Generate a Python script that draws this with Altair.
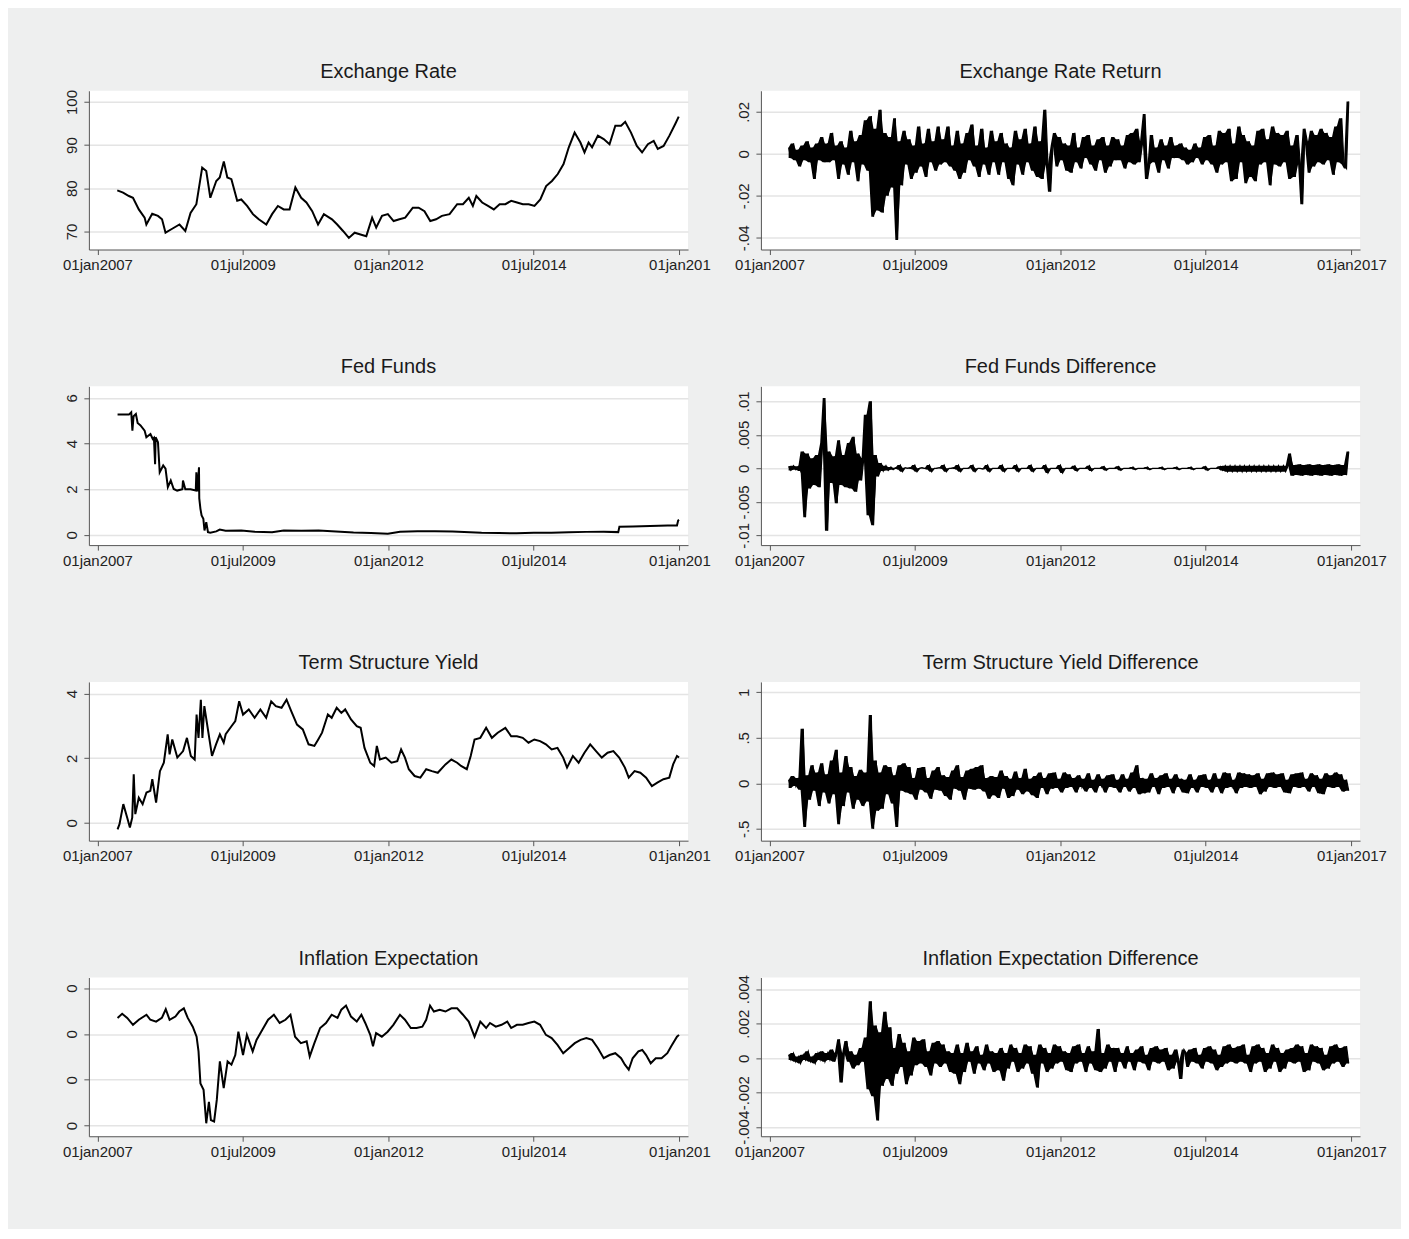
import altair as alt
import pandas as pd

FONT = "Liberation Sans"

# ---------------- level series: (decimal year, value) ----------------
exch = [(2007.34, 79.5), (2007.44, 79.0), (2007.54, 78.2), (2007.61, 77.8), (2007.71, 75.1), (2007.81, 73.2),
        (2007.84, 71.6), (2007.94, 74.1), (2008.04, 73.6), (2008.11, 72.8), (2008.17, 69.7), (2008.27, 70.5),
        (2008.41, 71.6), (2008.51, 70.1), (2008.60, 74.3), (2008.70, 76.3), (2008.80, 84.8), (2008.87, 84.0),
        (2008.94, 77.8), (2009.04, 81.7), (2009.10, 82.5), (2009.17, 86.2), (2009.23, 82.5), (2009.30, 82.1),
        (2009.40, 77.1), (2009.47, 77.4), (2009.57, 75.9), (2009.67, 74.0), (2009.77, 72.8), (2009.90, 71.6),
        (2010.00, 74.0), (2010.10, 75.9), (2010.20, 75.1), (2010.30, 75.1), (2010.40, 80.2), (2010.50, 77.8),
        (2010.59, 76.7), (2010.69, 74.7), (2010.79, 71.6), (2010.89, 74.0), (2011.03, 72.8), (2011.12, 71.6),
        (2011.22, 70.1), (2011.32, 68.5), (2011.42, 69.7), (2011.52, 69.3), (2011.62, 68.9), (2011.72, 73.2),
        (2011.79, 70.9), (2011.89, 73.6), (2011.99, 74.0), (2012.09, 72.4), (2012.19, 72.8), (2012.29, 73.2),
        (2012.42, 75.5), (2012.52, 75.5), (2012.62, 74.7), (2012.72, 72.4), (2012.82, 72.8), (2012.92, 73.6),
        (2013.05, 74.0), (2013.18, 76.3), (2013.28, 76.3), (2013.38, 77.8), (2013.45, 75.9), (2013.51, 78.2),
        (2013.61, 76.7), (2013.71, 75.9), (2013.81, 75.1), (2013.91, 76.3), (2014.01, 76.3), (2014.11, 77.1),
        (2014.21, 76.7), (2014.31, 76.3), (2014.41, 76.3), (2014.51, 75.9), (2014.61, 77.4), (2014.71, 80.5),
        (2014.81, 81.7), (2014.91, 83.3), (2015.01, 85.6), (2015.10, 89.5), (2015.20, 92.9), (2015.30, 90.6),
        (2015.37, 88.3), (2015.44, 90.6), (2015.50, 89.5), (2015.60, 92.2), (2015.70, 91.4), (2015.80, 90.2),
        (2015.90, 94.5), (2016.00, 94.5), (2016.07, 95.4), (2016.17, 92.9), (2016.27, 89.8), (2016.36, 88.3),
        (2016.46, 90.2), (2016.56, 91.0), (2016.63, 89.1), (2016.73, 89.8), (2016.83, 92.2), (2016.93, 94.9),
        (2016.99, 96.6)]

fedfunds = [(2007.345, 5.27), (2007.54, 5.27), (2007.58, 5.37), (2007.60, 4.57), (2007.62, 5.2), (2007.66, 5.3),
            (2007.69, 4.9), (2007.74, 4.8), (2007.81, 4.57), (2007.84, 4.28), (2007.91, 4.42), (2007.95, 4.2),
            (2007.97, 4.25), (2007.99, 3.1), (2008.00, 4.28), (2008.04, 4.06), (2008.07, 2.74), (2008.13, 3.04),
            (2008.17, 2.9), (2008.21, 2.09), (2008.26, 2.38), (2008.31, 2.01), (2008.37, 1.94), (2008.46, 2.0),
            (2008.47, 2.38), (2008.51, 2.0), (2008.60, 2.0), (2008.69, 1.94), (2008.70, 2.74), (2008.72, 1.9),
            (2008.745, 2.96), (2008.75, 1.6), (2008.77, 1.14), (2008.79, 0.85), (2008.82, 0.70), (2008.84, 0.19),
            (2008.87, 0.55), (2008.90, 0.12), (2008.94, 0.09), (2009.04, 0.15), (2009.10, 0.23), (2009.20, 0.18),
            (2009.47, 0.19), (2009.70, 0.14), (2010.00, 0.11), (2010.20, 0.19), (2010.50, 0.18), (2010.80, 0.19),
            (2011.10, 0.15), (2011.40, 0.10), (2011.70, 0.08), (2011.99, 0.05), (2012.20, 0.14), (2012.50, 0.16),
            (2012.80, 0.16), (2013.10, 0.15), (2013.30, 0.12), (2013.60, 0.09), (2013.90, 0.08), (2014.20, 0.07),
            (2014.50, 0.09), (2014.80, 0.09), (2015.10, 0.11), (2015.40, 0.13), (2015.70, 0.14), (2015.95, 0.12),
            (2015.97, 0.36), (2016.20, 0.37), (2016.50, 0.39), (2016.80, 0.41), (2016.96, 0.41), (2016.98, 0.63),
            (2016.995, 0.66)]

term = [(2007.345, -0.20), (2007.378, -0.04), (2007.444, 0.58), (2007.511, 0.16), (2007.557, -0.14),
        (2007.597, 0.16), (2007.623, 1.50), (2007.650, 0.27), (2007.710, 0.78), (2007.776, 0.58),
        (2007.842, 0.94), (2007.908, 0.99), (2007.942, 1.35), (2008.008, 0.63), (2008.074, 1.60),
        (2008.141, 1.86), (2008.207, 2.74), (2008.240, 2.12), (2008.286, 2.58), (2008.373, 2.02),
        (2008.472, 2.22), (2008.538, 2.63), (2008.605, 2.07), (2008.671, 1.96), (2008.704, 3.35),
        (2008.737, 2.63), (2008.777, 3.81), (2008.804, 2.63), (2008.837, 3.61), (2008.903, 2.84),
        (2008.969, 2.07), (2009.036, 2.43), (2009.102, 2.74), (2009.168, 2.48), (2009.202, 2.74),
        (2009.301, 2.99), (2009.367, 3.15), (2009.434, 3.76), (2009.500, 3.35), (2009.599, 3.51),
        (2009.699, 3.25), (2009.798, 3.51), (2009.898, 3.25), (2009.984, 3.76), (2010.064, 3.61),
        (2010.163, 3.56), (2010.249, 3.81), (2010.329, 3.46), (2010.428, 3.04), (2010.528, 2.89),
        (2010.627, 2.43), (2010.727, 2.38), (2010.793, 2.58), (2010.859, 2.79), (2010.959, 3.35),
        (2011.025, 3.25), (2011.111, 3.56), (2011.191, 3.40), (2011.257, 3.51), (2011.357, 3.20),
        (2011.456, 2.99), (2011.523, 2.94), (2011.589, 2.32), (2011.688, 1.86), (2011.755, 1.76),
        (2011.801, 2.38), (2011.854, 1.96), (2011.954, 2.02), (2012.053, 1.86), (2012.153, 1.91),
        (2012.219, 2.27), (2012.285, 2.02), (2012.351, 1.66), (2012.451, 1.45), (2012.550, 1.40),
        (2012.650, 1.66), (2012.749, 1.60), (2012.849, 1.55), (2012.981, 1.81), (2013.081, 1.96),
        (2013.180, 1.86), (2013.247, 1.76), (2013.346, 1.66), (2013.413, 2.07), (2013.479, 2.58),
        (2013.578, 2.63), (2013.678, 2.94), (2013.777, 2.63), (2013.877, 2.79), (2014.009, 2.94),
        (2014.109, 2.68), (2014.208, 2.68), (2014.308, 2.63), (2014.407, 2.48), (2014.507, 2.58),
        (2014.606, 2.53), (2014.706, 2.43), (2014.805, 2.27), (2014.905, 2.32), (2015.004, 2.02),
        (2015.070, 1.71), (2015.170, 2.07), (2015.269, 1.86), (2015.369, 2.17), (2015.468, 2.43),
        (2015.568, 2.22), (2015.667, 2.02), (2015.767, 2.17), (2015.866, 2.22), (2015.966, 2.02),
        (2016.065, 1.71), (2016.131, 1.40), (2016.231, 1.60), (2016.330, 1.55), (2016.430, 1.40),
        (2016.529, 1.14), (2016.629, 1.25), (2016.728, 1.35), (2016.828, 1.40), (2016.894, 1.81),
        (2016.960, 2.07), (2016.995, 2.02)]

inflation = [(2007.345, 0.0235), (2007.424, 0.0244), (2007.511, 0.0235), (2007.610, 0.0220), (2007.710, 0.0231),
             (2007.842, 0.0242), (2007.908, 0.0231), (2008.008, 0.0227), (2008.107, 0.0235), (2008.174, 0.0254),
             (2008.240, 0.0231), (2008.340, 0.0238), (2008.406, 0.0249), (2008.485, 0.0256), (2008.552, 0.0235),
             (2008.638, 0.0216), (2008.704, 0.0194), (2008.737, 0.0162), (2008.770, 0.0092), (2008.824, 0.0078),
             (2008.870, 0.0005), (2008.916, 0.0052), (2008.950, 0.0012), (2009.003, 0.0009), (2009.049, 0.0056),
             (2009.102, 0.0140), (2009.168, 0.0082), (2009.235, 0.0140), (2009.301, 0.0133), (2009.367, 0.0154),
             (2009.420, 0.0205), (2009.500, 0.0154), (2009.566, 0.0198), (2009.666, 0.0162), (2009.732, 0.0187),
             (2009.832, 0.0209), (2009.931, 0.0231), (2010.031, 0.0242), (2010.130, 0.0224), (2010.230, 0.0231),
             (2010.316, 0.0242), (2010.395, 0.0194), (2010.495, 0.0180), (2010.594, 0.0184), (2010.647, 0.0151),
             (2010.727, 0.0180), (2010.826, 0.0213), (2010.926, 0.0224), (2011.025, 0.0242), (2011.125, 0.0235),
             (2011.191, 0.0253), (2011.271, 0.0262), (2011.357, 0.0238), (2011.456, 0.0227), (2011.536, 0.0242),
             (2011.602, 0.0224), (2011.688, 0.0198), (2011.735, 0.0173), (2011.788, 0.0202), (2011.887, 0.0194),
             (2011.987, 0.0205), (2012.086, 0.0220), (2012.199, 0.0242), (2012.285, 0.0231), (2012.385, 0.0213),
             (2012.484, 0.0213), (2012.584, 0.0216), (2012.650, 0.0231), (2012.716, 0.0262), (2012.782, 0.0249),
             (2012.882, 0.0253), (2012.981, 0.0249), (2013.081, 0.0256), (2013.180, 0.0256), (2013.280, 0.0242),
             (2013.379, 0.0227), (2013.479, 0.0194), (2013.578, 0.0227), (2013.678, 0.0213), (2013.744, 0.0224),
             (2013.844, 0.0216), (2013.943, 0.0220), (2014.042, 0.0227), (2014.109, 0.0213), (2014.208, 0.0220),
             (2014.308, 0.0220), (2014.407, 0.0224), (2014.507, 0.0227), (2014.606, 0.0220), (2014.706, 0.0198),
             (2014.805, 0.0191), (2014.905, 0.0176), (2015.004, 0.0158), (2015.103, 0.0169), (2015.203, 0.0180),
             (2015.302, 0.0187), (2015.402, 0.0191), (2015.501, 0.0187), (2015.601, 0.0169), (2015.700, 0.0147),
             (2015.800, 0.0154), (2015.899, 0.0158), (2015.999, 0.0147), (2016.065, 0.0133), (2016.131, 0.0122),
             (2016.198, 0.0147), (2016.297, 0.0162), (2016.363, 0.0165), (2016.430, 0.0154), (2016.509, 0.0136),
             (2016.595, 0.0147), (2016.695, 0.0147), (2016.794, 0.0158), (2016.861, 0.0173), (2016.960, 0.0194),
             (2016.995, 0.0198)]

# ---------------- difference series: semi-monthly from May 2007 ----------------
# exchange rate return, units of 0.001
ret_e3 = [3, -2, 5, -3, 2, -6, 4, -3, 6, -4, 3, -12, 5, -3, 8, -4,
          5, -4, 10, -3, 4, -12, 6, -5, 3, -10, 11, -4, 6, -13, 9, -5, 16, -8, 18, -30, 12, -27, 21, -28,
          10, -20, 8, -16, 17, -41, 6, -15, 11, -5, 7, -12, 4, -9, 13, -6, 5, -11, 12, -4, 6, -8, 13, -5,
          7, -4, 13, -6, 4, -8, 11, -12, 5, -9, 10, -3, 14, -6, 4, -11, 12, -5, 3, -10, 11, -4, 6, -10,
          10, -4, 5, -12, 3, -15, 11, -5, 7, -10, 12, -4, 5, -8, 13, -11, 6, -12, 21, -5, -18, 4, 10, -6,
          8, -3, 5, -8, 4, -9, 10, -4, 3, -7, 8, -2, 9, -5, 4, -8, 7, -3, 8, -9, 4, -6, 8, -3,
          7, -3, 4, -7, 9, -4, 10, -5, 12, -4, 6, 19, -12, -5, 9, -4, 3, -9, 7, -3, 4, -7, 8, -2,
          4, -2, 5, -3, 3, -5, 2, -4, 5, -2, 3, -5, 8, -3, 9, -5, 4, -9, 11, -5, 10, -4, 12, -13,
          5, -12, 13, -4, 9, -14, 6, -11, 4, -13, 11, -5, 12, -4, 7, -15, 13, -5, 10, -6, 9, -4, 11, -12,
          4, -11, 9, -5, -24, 12, 5, -9, 11, -6, 9, -4, 12, -5, 10, -3, 8, -10, 13, -4, 17, -5, -7, 25]

# fed funds difference, units of 0.0001
ffd_e4 = [3, -3, 4, -2, 3, -4, 25, -73, 22, -30, 15, -25, 20, -28, 38, 105,
          -93, 25, -22, 18, -52, 42, -25, 20, -28, 38, -30, 47, -35, 22, -18, 15, 80, -70, 100, -85, 20, -12, 8, -4,
          4, -3, 2, -2, 1, -1, 5, -5, 1, 0, 1, -1, 5, -5, 0, 1, 0, -1, 5, -5, 0, 0, 1, 0,
          5, -5, 0, 0, 1, -1, 5, -5, 0, 0, 0, 1, 5, -5, 0, 0, -1, 0, 5, -5, 0, 0, 0, 0,
          5, -5, 0, 0, 0, 0, 5, -5, 0, 0, 0, 0, 5, -5, 0, 0, 0, 0, 5, -7, 0, 0, 0, 0,
          5, -7, 0, 0, 0, 0, 4, -4, 0, 0, 0, 0, 4, -4, 0, 0, 0, 0, 3, -3, 0, 0, 0, 0,
          3, -3, 0, 0, 0, 0, 2, -2, 0, 0, 0, 0, 2, -2, 0, 0, 0, 0, 2, -2, 0, 0, 0, 0,
          2, -2, 0, 0, 0, 0, 2, -2, 0, 0, 0, 0, 3, -3, 0, 0, 0, 0, 3, -3, 4, -5, 4, -5,
          4, -5, 4, -5, 4, -5, 4, -5, 4, -5, 4, -5, 4, -5, 4, -5, 4, -5, 4, -5, 4, -5, 4, 22,
          -11, 5, -10, 6, -11, 5, -10, 6, -11, 5, -10, 6, -11, 5, -10, 6, -11, 5, -10, 6, -11, 5, -10, 25]

# term structure yield difference, units of 0.01
tsd_e2 = [4, -5, 8, -3, 6, -7, 60, -48, 9, -18, 20, -8, 12, -25, 22, -10,
          10, -22, 25, -12, 37, -45, 12, -25, 30, -10, 18, -28, 8, -18, 15, -25, 12, -20, 75, -50, 25, -30, 12, -28,
          20, -12, 18, -22, 9, -48, 20, -8, 22, -10, 18, -12, 6, -18, 17, -7, 18, -10, 6, -17, 14, -7, 18, -8,
          9, -14, 7, -18, 14, -6, 20, -8, 7, -18, 14, -6, 16, -7, 18, -6, 20, -9, 6, -17, 8, -13, 7, -16,
          14, -6, 8, -16, 5, -14, 13, -7, 6, -12, 16, -9, 5, -13, 8, -16, 12, -5, 6, -12, 11, -6, 12, -5,
          5, -10, 12, -5, 10, -4, 6, -10, 9, -4, 5, -9, 11, -5, 4, -10, 10, -3, 5, -10, 9, -4, 10, -5,
          4, -10, 10, -4, 5, -9, 12, -5, 20, -12, 6, -11, 5, -10, 11, -4, 6, -12, 9, -5, 11, -4, 5, -11,
          10, -4, 5, -10, 4, -11, 10, -5, 4, -10, 9, -4, 10, -5, 4, -10, 11, -4, 5, -11, 12, -5, 11, -4,
          4, -11, 12, -5, 11, -4, 10, -5, 9, -4, 11, -12, 5, -9, 11, -4, 12, -5, 10, -4, 11, -10, 4, -11,
          10, -4, 11, -5, 12, -4, 5, -9, 11, -4, 9, -11, 5, -12, 11, -4, 9, -5, 12, -4, 10, -9, 4, -8]

# inflation expectation difference, units of 0.0001
ied_e4 = [2, -1, 3, -2, 1, -3, 2, -1, 4, -2, 1, -3, 3, -1, 4, -2,
          3, -1, 5, -2, 3, 11, -14, 3, 10, -2, 4, -6, 2, -4, 6, -2, 12, -18, 33, -22, 19, -36, 15, -16,
          27, -12, 18, -16, 6, -9, 14, -5, 9, -15, 4, -10, 12, -4, 10, -3, 11, -5, 4, -10, 9, -3, 10, -5,
          8, -3, 4, -8, 3, -9, 8, -15, 3, -8, 9, -2, 4, -9, 7, -3, 2, -7, 8, -3, 4, -8, 3, -7,
          6, -13, 3, -6, 8, -2, 6, -8, 3, -6, 8, -3, 7, -9, 2, -17, 8, -3, 6, -8, 3, -6, 8, -3,
          7, -2, 4, -7, 3, -8, 7, -3, 8, -2, 3, -8, 7, -3, 4, -7, 17, -8, 3, -6, 8, -2, 6, -8,
          6, -2, 3, -6, 7, -2, 3, -7, 5, -2, 7, -3, 2, -7, 6, -2, 7, -3, 5, -2, 6, -7, 2, -6,
          5, -2, -12, 5, 3, -5, 5, -2, 6, -3, 2, -6, 6, -2, 7, -3, 5, -7, 2, -5, 7, -3, 8, -2,
          6, -3, 7, -2, 8, -3, 2, -8, 7, -3, 8, -2, 6, -8, 3, -6, 8, -2, 6, -8, 3, -6, 5, -2,
          6, -3, 8, -2, 7, -8, 3, -7, 8, -2, 7, -3, 6, -7, 2, -6, 7, -3, 8, -2, 6, -5, 7, -3]

# ---------------- axis definitions ----------------
x_tick_dates = [(2007, 1, 1), (2009, 7, 1), (2012, 1, 1), (2014, 7, 1), (2017, 1, 1)]
x_domain = [(2006, 11, 8), (2017, 2, 24)]


def dec_to_date(ys):
    out = []
    for y in ys:
        yr = int(y)
        out.append(pd.Timestamp(year=yr, month=1, day=1) + pd.Timedelta(days=(y - yr) * 365.25))
    return out


def level_df(pairs):
    return pd.DataFrame({"date": dec_to_date([p[0] for p in pairs]), "value": [p[1] for p in pairs]})


def diff_df(vals, unit):
    dates = pd.date_range("2007-05-01", periods=len(vals), freq="SMS")
    return pd.DataFrame({"date": dates, "value": [v * unit for v in vals]})


XTICKS = [alt.DateTime(year=y, month=m, date=d) for (y, m, d) in x_tick_dates]
XDOM = [alt.DateTime(year=y, month=m, date=d) for (y, m, d) in x_domain]
STATA_NUM = "replace(replace(format(datum.value, '~g'), '\u2212', '-'), '0.', '.')"


def panel(df, title, ydom, yticks, ylab, left, dense=False, toff=9):
    xlab = "lower(timeFormat(datum.value, '%d%b%Y'))"
    if left:
        xlab = "year(datum.value) >= 2016 ? '01jan201' : " + xlab
    x = alt.X("date:T", scale=alt.Scale(domain=XDOM),
              axis=alt.Axis(values=XTICKS, labelExpr=xlab, title=None, grid=False,
                            labelFlush=False, labelOverlap=False, labelPadding=3))
    yscale = alt.Scale(domain=ydom, nice=False, zero=False)
    yaxis = alt.Axis(values=yticks, labelExpr=ylab, title=None, grid=True,
                     labelAngle=270, labelAlign="center", labelBaseline="bottom",
                     labelOverlap=False, labelFlush=False, labelPadding=4)
    base = alt.Chart(df)
    tparams = alt.TitleParams(text=title, offset=toff)
    if dense:
        band = base.transform_window(
            hi="max(value)", lo="min(value)", frame=[0, 1], sort=[alt.SortField("date")]
        ).mark_area(color="black", clip=True).encode(
            x=x, y=alt.Y("lo:Q", scale=yscale, axis=yaxis), y2="hi:Q"
        )
        line = base.mark_line(color="black", strokeWidth=1.2, clip=True).encode(
            x=x, y=alt.Y("value:Q", scale=yscale, axis=yaxis))
        return alt.layer(band, line).properties(width=600, height=159, title=tparams)
    line = base.mark_line(color="black", strokeWidth=2.0, clip=True).encode(
        x=x, y=alt.Y("value:Q", scale=yscale, axis=yaxis))
    return line.properties(width=600, height=159, title=tparams)


panels = [
    panel(level_df(exch), "Exchange Rate", [65.8, 102.6], [70, 80, 90, 100], STATA_NUM, True, toff=7),
    panel(diff_df(ret_e3, 0.001), "Exchange Rate Return", [-0.0456, 0.0301], [-0.04, -0.02, 0, 0.02], STATA_NUM, False, dense=True),
    panel(level_df(fedfunds), "Fed Funds", [-0.45, 6.51], [0, 2, 4, 6], STATA_NUM, True),
    panel(diff_df(ffd_e4, 0.0001), "Fed Funds Difference", [-0.01145, 0.01224], [-0.01, -0.005, 0, 0.005, 0.01], STATA_NUM, False, dense=True),
    panel(level_df(term), "Term Structure Yield", [-0.55, 4.36], [0, 2, 4], STATA_NUM, True),
    panel(diff_df(tsd_e2, 0.01), "Term Structure Yield Difference", [-0.63, 1.115], [-0.5, 0, 0.5, 1], STATA_NUM, False, dense=True),
    panel(level_df(inflation), "Inflation Expectation", [-0.00233, 0.03233], [0, 0.01, 0.02, 0.03], "'0'", True),
    panel(diff_df(ied_e4, 0.0001), "Inflation Expectation Difference", [-0.00452, 0.00468], [-0.004, -0.002, 0, 0.002, 0.004], STATA_NUM, False, dense=True, toff=6),
]

chart = alt.concat(*panels, columns=2, spacing={"row": 137, "column": 73}, bounds="flush").resolve_scale(
    x="independent", y="independent"
).properties(
    padding={"left": 54, "top": 53, "right": 14, "bottom": 69},
    background="#eeefef",
).configure_view(
    fill="white", strokeWidth=0
).configure_axis(
    domainColor="#555555", tickColor="#555555", tickSize=5, domainWidth=1, tickWidth=1,
    labelFont=FONT, labelFontSize=15, labelColor="#222222",
    gridColor="#e4e4e4", gridWidth=1.5,
).configure_title(
    font=FONT, fontSize=20, fontWeight="normal", color="#1a1a1a", anchor="middle", frame="group"
)

chart.save("out.html", embed_options={"renderer": "svg", "actions": False})
